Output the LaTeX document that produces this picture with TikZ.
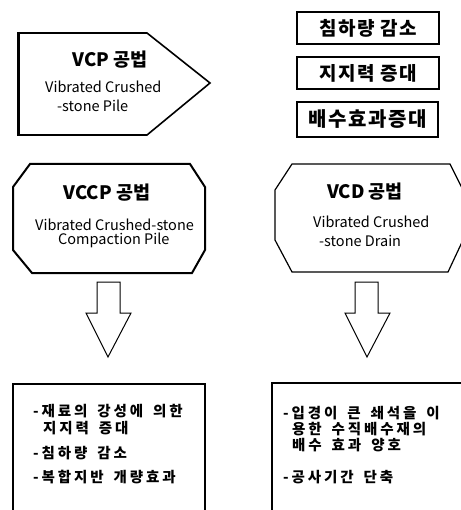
\documentclass[tikz,border=0pt]{standalone}
\usepackage{fontspec}
\setmainfont{Noto Sans CJK KR}
\newfontfamily\spacedkr[LetterSpace=20,WordSpace=1.6]{Noto Sans CJK KR}
\newfontfamily\tagkr[LetterSpace=8]{Noto Sans CJK KR}
\begin{document}
\begin{tikzpicture}[x=1pt,y=-1pt,
  ttl/.style={font=\bfseries\fontsize{18.5}{20}\selectfont, inner sep=0pt},
  sub/.style={font=\fontsize{14.5}{16}\selectfont, inner sep=0pt, align=left},
  tagbox/.style={draw, line width=1.3pt, font=\tagkr\bfseries\fontsize{19}{21}\selectfont, minimum width=142pt, minimum height=32pt, inner sep=0pt},
  item/.style={font=\spacedkr\bfseries\fontsize{14.5}{16}\selectfont, inner sep=0pt, anchor=west},
  blk/.style={draw, line width=1pt},
  shp/.style={draw, line width=1.6pt, line join=miter}]
\useasboundingbox (0,0) rectangle (460,510);
% VCP pentagon
\draw[shp] (19,33) -- (147,33) -- (210,83) -- (147,135) -- (19,135) -- cycle;
\draw[line width=3pt] (18.5,32) -- (18.5,136);
\node[ttl] (vcpT) at (110,60) {VCP 공법};
\node[sub, anchor=west] (vcpS1) at (45,87) {Vibrated Crushed};
\node[sub, anchor=west] (vcpS2) at (57,106) {-stone Pile};
% right tag boxes
\node[tagbox] (b1) at (368,28) {침하량 감소};
\node[tagbox] (b2) at (368,73) {지지력 증대};
\node[tagbox, line width=2pt, minimum height=35pt, minimum width=141pt, font=\tagkr\bfseries\fontsize{20}{22}\selectfont] (b3) at (367.5,119.5) {배수효과증대};
% VCCP octagon
\draw[shp, line width=2pt] (30,164) -- (190,164) -- (205,187) -- (205,250) -- (192,273) -- (32,273) -- (13,250) -- (13,187) -- cycle;
\node[ttl] (vccpT) at (107,193) {VCCP 공법};
\node[sub, anchor=west] (vccpS1) at (35,225) {Vibrated Crushed-stone};
\node[sub, anchor=west] (vccpS2) at (58,240) {Compaction Pile};
% VCD octagon
\draw[shp, line width=1.2pt] (292,164) -- (450,164) -- (463,190) -- (463,240) -- (448,272) -- (292,272) -- (275,240) -- (275,190) -- cycle;
\node[ttl] (vcdT) at (365,192) {VCD 공법};
\node[sub, anchor=west] (vcdS1) at (313,222) {Vibrated Crushed};
\node[sub, anchor=west] (vcdS2) at (319,241) {-stone Drain};
% block arrows
\draw[blk] (97,282) -- (120,282) -- (120,313) -- (131,313) -- (108,357) -- (86,313) -- (97,313) -- cycle;
\draw[blk] (355,282) -- (378,282) -- (378,313) -- (390,313) -- (367,357) -- (345,313) -- (355,313) -- cycle;
% result boxes
\draw[line width=1.2pt] (13,384) rectangle (205,515);
\draw[line width=1.2pt] (272,383) rectangle (463,515);
\node[item] (l1) at (33,411) {-재료의 강성에 의한};
\node[item] (l2) at (43,428) {지지력 증대};
\node[item] (l3) at (33,453) {-침하량 감소};
\node[item] (l4) at (33,477) {-복합지반 개량효과};
\node[item] (r1) at (283,413) {-입경이 큰 쇄석을 이};
\node[item] (r2) at (292,429) {용한 수직배수재의};
\node[item] (r3) at (292,445) {배수 효과 양호};
\node[item] (r4) at (283,477) {-공사기간 단축};
\end{tikzpicture}
\end{document}
